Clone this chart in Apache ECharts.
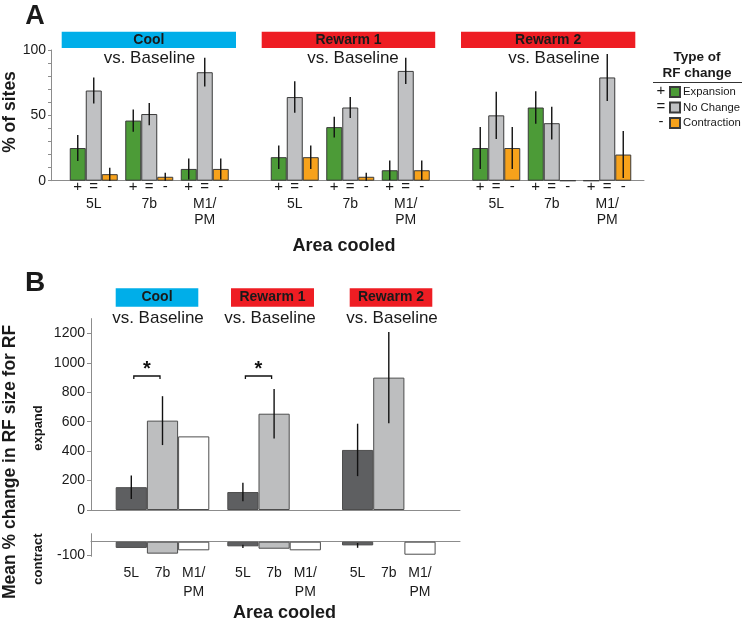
<!DOCTYPE html>
<html><head><meta charset="utf-8">
<script src="https://cdn.jsdelivr.net/npm/echarts@6/dist/echarts.min.js"></script>
<style>html,body{margin:0;padding:0;background:#fff}#c{width:742px;height:626px}</style>
</head><body><div id="c"></div>
<script>
// ---------- data ----------
const areaCategories = ['5L', '7b', 'M1/\nPM'];
const changeTypes = ['Expansion', 'No Change', 'Contraction'];
const changeSigns = ['+', '=', '-'];
const blockNames = ['Cool', 'Rewarm 1', 'Rewarm 2'];
const aTicks = [0, 50, 100];
const bTicksExpand = [0, 200, 400, 600, 800, 1000, 1200];
const bTicksContract = [0, -100];

// Panel A: % of sites (value, error)
const coolExpansion = [25, 46, 9],      coolExpansionErr = [10, 8.5, 8];
const coolNoChange = [69, 51, 83],      coolNoChangeErr = [10, 8.5, 11];
const coolContraction = [5, 3, 9],      coolContractionErr = [5, 3, 8];
const rw1Expansion = [18, 41, 8],       rw1ExpansionErr = [9, 8, 7.5];
const rw1NoChange = [64, 56, 84],       rw1NoChangeErr = [12, 8, 10];
const rw1Contraction = [18, 3, 8],      rw1ContractionErr = [9, 3, 7.5];
const rw2Expansion = [25, 56, 0],       rw2ExpansionErr = [16, 12.5, 0];
const rw2NoChange = [50, 44, 79],       rw2NoChangeErr = [18, 12.5, 18];
const rw2Contraction = [25, 0, 20],     rw2ContractionErr = [16, 0, 18];

// Panel B: mean % change (expand / contract)
const coolExpand = [155, 607, 500],     coolExpandErr = [80, 166, 0];
const rw1Expand = [122, 654, null],     rw1ExpandErr = [63, 168, 0];
const rw2Expand = [408, 899, null],     rw2ExpandErr = [178, 310, 0];
const coolContract = [-47, -90, -65],   coolContractErr = [0, 0, 0];
const rw1Contract = [-35, -53, -65],    rw1ContractErr = [12, 0, 0];
const rw2Contract = [-28, null, -98],   rw2ContractErr = [18, 0, 0];
const sigLevel = 910; // bracket height for the 5L vs 7b comparison
const sigBlocks = [true, true, false];

// ---------- styles / layout ----------
const FONT = '"Liberation Sans", Arial, Helvetica, sans-serif';
const TXT = '#1a1a1a';
const AXIS = '#8c8c8c';
const A_COLORS = ['#4c9b37', '#c0c1c3', '#f7a21b'];
const A_BORDER = '#3a3a3a';
const B_COLORS = ['#5e5f61', '#bdbebf', '#ffffff'];
const B_BORDER = '#4d4d4d';
const HEAD_COLORS = ['#00aee9', '#ee1d23', '#ee1d23'];
const BAR_A = 16;

const aVals = [[coolExpansion, coolNoChange, coolContraction],
               [rw1Expansion, rw1NoChange, rw1Contraction],
               [rw2Expansion, rw2NoChange, rw2Contraction]];
const aErrs = [[coolExpansionErr, coolNoChangeErr, coolContractionErr],
               [rw1ExpansionErr, rw1NoChangeErr, rw1ContractionErr],
               [rw2ExpansionErr, rw2NoChangeErr, rw2ContractionErr]];
const bUp = [coolExpand, rw1Expand, rw2Expand];
const bUpErr = [coolExpandErr, rw1ExpandErr, rw2ExpandErr];
const bLo = [coolContract, rw1Contract, rw2Contract];
const bLoErr = [coolContractErr, rw1ContractErr, rw2ContractErr];

const A_TOP = 50, A_H = 130.7, A_LEFT = 51, A_W = 593;
const aBlockLeft = [66, 267, 468.5], A_BW = 166.5;
const BU_TOP = 318.6, BU_H = 191.4, B_LEFT = 91, B_W = 369;
const BL_TOP = 533.7, BL_H = 22.6;
const bBlockLeft = [115.7, 227.3, 342], B_BW = 93.6;

const grids = [], xAxes = [], yAxes = [], series = [];
function addGrid(left, top, width, height) {
  grids.push({ left: left, top: top, width: width, height: height,
    containLabel: false, outerBoundsMode: 'none' });
  return grids.length - 1;
}

function errRender(offset) {
  return function (params, api) {
    const e = api.value(2);
    const v = api.value(1);
    if (!e || v == null || isNaN(v)) return null;
    const hi = api.coord([api.value(0), v + e]);
    const lo = api.coord([api.value(0), v - e]);
    const x = hi[0] + offset(api.value(3));
    return { type: 'line', shape: { x1: x, y1: hi[1], x2: x, y2: lo[1] },
      style: { stroke: '#111', lineWidth: 1.4 } };
  };
}

// ----- Panel A base grid (axes) -----
const a0 = addGrid(A_LEFT, A_TOP, A_W, A_H);
xAxes.push({ gridIndex: a0, type: 'category', data: [''], axisLine: { lineStyle: { color: AXIS } },
  axisTick: { show: false }, axisLabel: { show: false } });
yAxes.push({ gridIndex: a0, type: 'value', min: 0, max: 100, interval: 50,
  axisLine: { show: true, lineStyle: { color: AXIS } },
  axisTick: { show: true, length: 3, lineStyle: { color: AXIS } },
  minorTick: { show: true, splitNumber: 5, length: 3, lineStyle: { color: AXIS } },
  splitLine: { show: false },
  axisLabel: { fontSize: 14, color: TXT, margin: 5, fontFamily: FONT,
    customValues: aTicks } });

// ----- Panel A block grids -----
for (let b = 0; b < 3; b++) {
  const g = addGrid(aBlockLeft[b], A_TOP, A_BW, A_H);
  xAxes.push({ gridIndex: g, type: 'category', data: areaCategories,
    axisLine: { show: false }, axisTick: { show: false },
    axisLabel: { interval: 0, margin: -3, color: TXT, fontFamily: FONT,
      formatter: v => changeSigns.map(s => '{s|' + s + '}').join('') + '\n' +
        v.split('\n').map(l => '{n|' + l + '}').join('\n'),
      rich: { s: { width: BAR_A, align: 'center', fontSize: 15, lineHeight: 18, color: TXT, fontFamily: FONT },
              n: { fontSize: 14, lineHeight: 16, color: TXT, fontFamily: FONT } } } });
  yAxes.push({ gridIndex: g, type: 'value', min: 0, max: 100, show: false });
  const errData = [];
  for (let k = 0; k < 3; k++) {
    series.push({ type: 'bar', name: changeTypes[k], xAxisIndex: g, yAxisIndex: g,
      data: aVals[b][k], barWidth: BAR_A, barGap: '0%',
      itemStyle: { color: A_COLORS[k], borderColor: A_BORDER, borderWidth: 1 } });
    aVals[b][k].forEach((v, i) => errData.push([i, v, aErrs[b][k][i], k]));
  }
  series.push({ type: 'custom', xAxisIndex: g, yAxisIndex: g, z: 5, data: errData,
    renderItem: errRender(k => (k - 1) * BAR_A) });
}

// ----- Panel B upper base -----
const bu0 = addGrid(B_LEFT, BU_TOP, B_W, BU_H);
xAxes.push({ gridIndex: bu0, type: 'category', data: [''], axisLine: { lineStyle: { color: AXIS } },
  axisTick: { show: false }, axisLabel: { show: false } });
yAxes.push({ gridIndex: bu0, type: 'value', min: 0, max: 1300, interval: 100,
  axisLine: { show: true, lineStyle: { color: AXIS } },
  axisTick: { show: true, length: 4, lineStyle: { color: AXIS }, customValues: bTicksExpand },
  splitLine: { show: false },
  axisLabel: { fontSize: 14, color: TXT, margin: 6, fontFamily: FONT, customValues: bTicksExpand,
    formatter: v => (bTicksExpand.indexOf(v) >= 0 ? String(v) : '') } });

// ----- Panel B lower base -----
const bl0 = addGrid(B_LEFT, BL_TOP, B_W, BL_H);
xAxes.push({ gridIndex: bl0, type: 'category', data: [''], axisLine: { onZero: true, lineStyle: { color: AXIS } },
  axisTick: { show: false }, axisLabel: { show: false } });
yAxes.push({ gridIndex: bl0, type: 'value', min: -110, max: 60, interval: 10,
  axisLine: { show: true, lineStyle: { color: AXIS } },
  axisTick: { show: true, length: 4, lineStyle: { color: AXIS }, customValues: bTicksContract },
  splitLine: { show: false },
  axisLabel: { fontSize: 14, color: TXT, margin: 6, fontFamily: FONT, customValues: bTicksContract,
    formatter: v => (bTicksContract.indexOf(v) >= 0 ? String(v) : '') } });

// ----- Panel B blocks -----
for (let b = 0; b < 3; b++) {
  // upper
  let g = addGrid(bBlockLeft[b], BU_TOP, B_BW, BU_H);
  xAxes.push({ gridIndex: g, type: 'category', data: areaCategories, show: false });
  yAxes.push({ gridIndex: g, type: 'value', min: 0, max: 1300, show: false });
  series.push({ type: 'bar', xAxisIndex: g, yAxisIndex: g, data: bUp[b], barCategoryGap: '0%',
    itemStyle: { color: p => B_COLORS[p.dataIndex], borderColor: B_BORDER, borderWidth: 1 } });
  series.push({ type: 'custom', xAxisIndex: g, yAxisIndex: g, z: 5,
    data: bUp[b].map((v, i) => [i, v, bUpErr[b][i], 0]), renderItem: errRender(() => 0) });
  if (sigBlocks[b]) {
    series.push({ type: 'custom', xAxisIndex: g, yAxisIndex: g, z: 6, data: [[0, 1, sigLevel]],
      renderItem: (params, api) => {
        const p0 = api.coord([api.value(0), api.value(2)]);
        const p1 = api.coord([api.value(1), api.value(2)]);
        const x0 = p0[0] + 2.5, x1 = p1[0] - 2.5, y = p0[1];
        return { type: 'group', children: [
          { type: 'polyline', shape: { points: [[x0, y + 3], [x0, y], [x1, y], [x1, y + 3]] },
            style: { stroke: '#111', lineWidth: 1.3, fill: null } },
          { type: 'text', style: { x: (x0 + x1) / 2, y: y - 7, text: '*', align: 'center',
            verticalAlign: 'middle', fontSize: 20, fontWeight: 'bold', fill: '#111', fontFamily: FONT } } ] };
      } });
  }
  // lower
  g = addGrid(bBlockLeft[b], BL_TOP, B_BW, BL_H);
  xAxes.push({ gridIndex: g, type: 'category', data: areaCategories, position: 'bottom',
    axisLine: { show: false, onZero: false }, axisTick: { show: false },
    axisLabel: { interval: 0, margin: 7, fontSize: 14, lineHeight: 19, color: TXT, fontFamily: FONT } });
  yAxes.push({ gridIndex: g, type: 'value', min: -110, max: 60, show: false });
  series.push({ type: 'bar', xAxisIndex: g, yAxisIndex: g, data: bLo[b], barCategoryGap: '0%',
    itemStyle: { color: p => B_COLORS[p.dataIndex], borderColor: B_BORDER, borderWidth: 1 } });
  series.push({ type: 'custom', xAxisIndex: g, yAxisIndex: g, z: 5,
    data: bLo[b].map((v, i) => [i, v, bLoErr[b][i], 0]), renderItem: errRender(() => 0) });
}

// ----- annotations -----
const graphics = [];
function txt(x, y, text, size, bold, extra) {
  graphics.push(Object.assign({ type: 'text', x: x, y: y, style: { text: text, fontSize: size,
    fontWeight: bold ? 'bold' : 'normal', fill: TXT, fontFamily: FONT, align: 'center', verticalAlign: 'middle' } }, extra || {}));
}
txt(35, 17, 'A', 27, true);
txt(35, 283, 'B', 28, true);
const aHead = [[61.7, 174.3], [261.7, 173.5], [461, 174.3]];
const aVs = [149.5, 353, 554];
const bHead = [[115.7, 82.6], [231, 83], [349.7, 82.6]];
const bVs = [158, 270, 392];
for (let b = 0; b < 3; b++) {
  graphics.push({ type: 'rect', shape: { x: aHead[b][0], y: 31.7, width: aHead[b][1], height: 16.3 },
    style: { fill: HEAD_COLORS[b] } });
  txt(aHead[b][0] + aHead[b][1] / 2, 40, blockNames[b], 14, true);
  txt(aVs[b], 58.5, 'vs. Baseline', 17, false);
  graphics.push({ type: 'rect', shape: { x: bHead[b][0], y: 288.3, width: bHead[b][1], height: 18.4 },
    style: { fill: HEAD_COLORS[b] } });
  txt(bHead[b][0] + bHead[b][1] / 2, 297.5, blockNames[b], 14, true);
  txt(bVs[b], 318.5, 'vs. Baseline', 17, false);
}
// panel A axis titles
txt(10, 112, '% of sites', 17.5, true, { rotation: Math.PI / 2 });
txt(344, 246, 'Area cooled', 18, true);
// legend title & signs
txt(697, 57, 'Type of', 13.5, true);
txt(697, 73, 'RF change', 13.5, true);
graphics.push({ type: 'line', shape: { x1: 653, y1: 82.5, x2: 742, y2: 82.5 }, style: { stroke: '#333', lineWidth: 1.2 } });
changeSigns.forEach((s, i) => txt(661, 91 + i * 15.5, s, 15, false));
// panel B texts
txt(10, 462, 'Mean % change in RF size for RF', 17.5, true, { rotation: Math.PI / 2 });
txt(38, 428, 'expand', 13, true, { rotation: Math.PI / 2 });
txt(38, 559, 'contract', 13, true, { rotation: Math.PI / 2 });
txt(284.5, 613, 'Area cooled', 18, true);

const chart = echarts.init(document.getElementById('c'), null, { renderer: 'canvas' });
chart.setOption({
  animation: false,
  backgroundColor: '#fff',
  textStyle: { fontFamily: FONT },
  grid: grids, xAxis: xAxes, yAxis: yAxes, series: series,
  legend: { data: changeTypes, orient: 'vertical', left: 669, top: 86, padding: 0,
    itemWidth: 10, itemHeight: 10, itemGap: 3.5, icon: 'rect', selectedMode: false,
    textStyle: { fontSize: 11.3, lineHeight: 12, color: TXT, fontFamily: FONT, padding: [0, 0, 0, -2] } },
  graphic: graphics
});
</script></body></html>
